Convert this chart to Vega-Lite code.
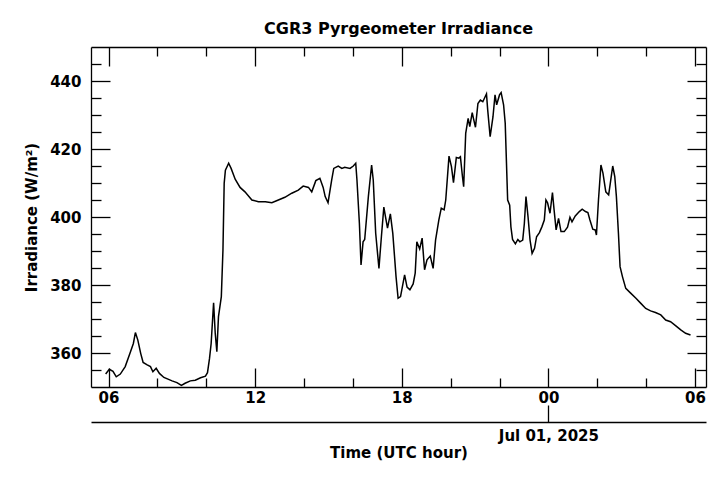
{
  "$schema": "https://vega.github.io/schema/vega-lite/v6.json",
  "width": 615,
  "height": 340,
  "autosize": {"type": "none"},
  "padding": {"left": 91, "top": 47, "right": 22, "bottom": 94},
  "title": {
    "text": "CGR3 Pyrgeometer Irradiance",
    "font": "DejaVu Sans",
    "fontSize": 16,
    "fontWeight": "bold",
    "color": "black",
    "offset": 9
  },
  "data": {
    "values": [
      {"t": "2025-06-30T05:53:00Z", "v": 353.8},
      {"t": "2025-06-30T06:02:00Z", "v": 355.2},
      {"t": "2025-06-30T06:11:00Z", "v": 354.6},
      {"t": "2025-06-30T06:19:00Z", "v": 353.0},
      {"t": "2025-06-30T06:29:00Z", "v": 353.8},
      {"t": "2025-06-30T06:41:00Z", "v": 356.0},
      {"t": "2025-06-30T06:54:00Z", "v": 360.4},
      {"t": "2025-06-30T07:01:00Z", "v": 362.8},
      {"t": "2025-06-30T07:06:00Z", "v": 366.0},
      {"t": "2025-06-30T07:12:00Z", "v": 363.8},
      {"t": "2025-06-30T07:19:00Z", "v": 359.9},
      {"t": "2025-06-30T07:25:00Z", "v": 357.2},
      {"t": "2025-06-30T07:35:00Z", "v": 356.5},
      {"t": "2025-06-30T07:43:00Z", "v": 356.0},
      {"t": "2025-06-30T07:49:00Z", "v": 354.5},
      {"t": "2025-06-30T07:57:00Z", "v": 355.5},
      {"t": "2025-06-30T08:05:00Z", "v": 354.0},
      {"t": "2025-06-30T08:16:00Z", "v": 352.8},
      {"t": "2025-06-30T08:26:00Z", "v": 352.3},
      {"t": "2025-06-30T08:36:00Z", "v": 351.8},
      {"t": "2025-06-30T08:48:00Z", "v": 351.3},
      {"t": "2025-06-30T08:59:00Z", "v": 350.5},
      {"t": "2025-06-30T09:08:00Z", "v": 351.1},
      {"t": "2025-06-30T09:21:00Z", "v": 351.8},
      {"t": "2025-06-30T09:33:00Z", "v": 352.0},
      {"t": "2025-06-30T09:46:00Z", "v": 352.7},
      {"t": "2025-06-30T09:58:00Z", "v": 353.2},
      {"t": "2025-06-30T10:03:00Z", "v": 354.2},
      {"t": "2025-06-30T10:08:00Z", "v": 358.4},
      {"t": "2025-06-30T10:12:00Z", "v": 362.8},
      {"t": "2025-06-30T10:18:00Z", "v": 374.8},
      {"t": "2025-06-30T10:22:00Z", "v": 365.8},
      {"t": "2025-06-30T10:26:00Z", "v": 360.4},
      {"t": "2025-06-30T10:30:00Z", "v": 370.7},
      {"t": "2025-06-30T10:37:00Z", "v": 376.6},
      {"t": "2025-06-30T10:41:00Z", "v": 390.3},
      {"t": "2025-06-30T10:44:00Z", "v": 409.9},
      {"t": "2025-06-30T10:47:00Z", "v": 413.8},
      {"t": "2025-06-30T10:55:00Z", "v": 415.8},
      {"t": "2025-06-30T11:01:00Z", "v": 414.3},
      {"t": "2025-06-30T11:11:00Z", "v": 411.1},
      {"t": "2025-06-30T11:23:00Z", "v": 408.7},
      {"t": "2025-06-30T11:35:00Z", "v": 407.4},
      {"t": "2025-06-30T11:52:00Z", "v": 405.0},
      {"t": "2025-06-30T12:08:00Z", "v": 404.5},
      {"t": "2025-06-30T12:25:00Z", "v": 404.5},
      {"t": "2025-06-30T12:41:00Z", "v": 404.2},
      {"t": "2025-06-30T12:57:00Z", "v": 405.0},
      {"t": "2025-06-30T13:13:00Z", "v": 405.8},
      {"t": "2025-06-30T13:30:00Z", "v": 407.0},
      {"t": "2025-06-30T13:46:00Z", "v": 407.9},
      {"t": "2025-06-30T13:58:00Z", "v": 409.1},
      {"t": "2025-06-30T14:11:00Z", "v": 408.7},
      {"t": "2025-06-30T14:19:00Z", "v": 407.4},
      {"t": "2025-06-30T14:29:00Z", "v": 410.7},
      {"t": "2025-06-30T14:39:00Z", "v": 411.4},
      {"t": "2025-06-30T14:47:00Z", "v": 408.7},
      {"t": "2025-06-30T14:52:00Z", "v": 406.0},
      {"t": "2025-06-30T14:59:00Z", "v": 404.2},
      {"t": "2025-06-30T15:08:00Z", "v": 410.9},
      {"t": "2025-06-30T15:13:00Z", "v": 414.3},
      {"t": "2025-06-30T15:24:00Z", "v": 415.0},
      {"t": "2025-06-30T15:33:00Z", "v": 414.3},
      {"t": "2025-06-30T15:40:00Z", "v": 414.6},
      {"t": "2025-06-30T15:53:00Z", "v": 414.3},
      {"t": "2025-06-30T16:01:00Z", "v": 415.0},
      {"t": "2025-06-30T16:07:00Z", "v": 415.8},
      {"t": "2025-06-30T16:10:00Z", "v": 410.9},
      {"t": "2025-06-30T16:16:00Z", "v": 398.1},
      {"t": "2025-06-30T16:20:00Z", "v": 385.9},
      {"t": "2025-06-30T16:25:00Z", "v": 392.7},
      {"t": "2025-06-30T16:29:00Z", "v": 393.4},
      {"t": "2025-06-30T16:38:00Z", "v": 406.0},
      {"t": "2025-06-30T16:46:00Z", "v": 415.3},
      {"t": "2025-06-30T16:50:00Z", "v": 410.9},
      {"t": "2025-06-30T16:56:00Z", "v": 395.2},
      {"t": "2025-06-30T17:04:00Z", "v": 384.9},
      {"t": "2025-06-30T17:10:00Z", "v": 394.2},
      {"t": "2025-06-30T17:16:00Z", "v": 402.9},
      {"t": "2025-06-30T17:20:00Z", "v": 400.1},
      {"t": "2025-06-30T17:25:00Z", "v": 396.7},
      {"t": "2025-06-30T17:32:00Z", "v": 400.9},
      {"t": "2025-06-30T17:38:00Z", "v": 395.2},
      {"t": "2025-06-30T17:46:00Z", "v": 382.4},
      {"t": "2025-06-30T17:51:00Z", "v": 376.1},
      {"t": "2025-06-30T17:57:00Z", "v": 376.6},
      {"t": "2025-06-30T18:07:00Z", "v": 383.0},
      {"t": "2025-06-30T18:13:00Z", "v": 379.4},
      {"t": "2025-06-30T18:20:00Z", "v": 378.6},
      {"t": "2025-06-30T18:28:00Z", "v": 380.3},
      {"t": "2025-06-30T18:33:00Z", "v": 383.5},
      {"t": "2025-06-30T18:37:00Z", "v": 392.7},
      {"t": "2025-06-30T18:44:00Z", "v": 390.6},
      {"t": "2025-06-30T18:50:00Z", "v": 393.8},
      {"t": "2025-06-30T18:56:00Z", "v": 384.5},
      {"t": "2025-06-30T19:02:00Z", "v": 387.4},
      {"t": "2025-06-30T19:10:00Z", "v": 388.5},
      {"t": "2025-06-30T19:17:00Z", "v": 384.9},
      {"t": "2025-06-30T19:23:00Z", "v": 393.2},
      {"t": "2025-06-30T19:31:00Z", "v": 399.1},
      {"t": "2025-06-30T19:37:00Z", "v": 402.6},
      {"t": "2025-06-30T19:44:00Z", "v": 402.1},
      {"t": "2025-06-30T19:48:00Z", "v": 405.0},
      {"t": "2025-06-30T19:56:00Z", "v": 417.9},
      {"t": "2025-06-30T20:02:00Z", "v": 414.8},
      {"t": "2025-06-30T20:07:00Z", "v": 410.1},
      {"t": "2025-06-30T20:14:00Z", "v": 417.5},
      {"t": "2025-06-30T20:20:00Z", "v": 417.3},
      {"t": "2025-06-30T20:24:00Z", "v": 417.7},
      {"t": "2025-06-30T20:29:00Z", "v": 411.9},
      {"t": "2025-06-30T20:32:00Z", "v": 408.9},
      {"t": "2025-06-30T20:37:00Z", "v": 424.6},
      {"t": "2025-06-30T20:43:00Z", "v": 429.0},
      {"t": "2025-06-30T20:47:00Z", "v": 426.6},
      {"t": "2025-06-30T20:53:00Z", "v": 430.7},
      {"t": "2025-06-30T20:56:00Z", "v": 429.0},
      {"t": "2025-06-30T21:01:00Z", "v": 426.4},
      {"t": "2025-06-30T21:07:00Z", "v": 433.4},
      {"t": "2025-06-30T21:13:00Z", "v": 434.4},
      {"t": "2025-06-30T21:19:00Z", "v": 433.9},
      {"t": "2025-06-30T21:28:00Z", "v": 436.2},
      {"t": "2025-06-30T21:31:00Z", "v": 431.5},
      {"t": "2025-06-30T21:37:00Z", "v": 423.6},
      {"t": "2025-06-30T21:44:00Z", "v": 429.5},
      {"t": "2025-06-30T21:49:00Z", "v": 435.9},
      {"t": "2025-06-30T21:53:00Z", "v": 433.0},
      {"t": "2025-06-30T22:00:00Z", "v": 435.9},
      {"t": "2025-06-30T22:04:00Z", "v": 436.6},
      {"t": "2025-06-30T22:10:00Z", "v": 433.0},
      {"t": "2025-06-30T22:14:00Z", "v": 427.6},
      {"t": "2025-06-30T22:20:00Z", "v": 405.0},
      {"t": "2025-06-30T22:25:00Z", "v": 403.5},
      {"t": "2025-06-30T22:28:00Z", "v": 397.1},
      {"t": "2025-06-30T22:32:00Z", "v": 393.4},
      {"t": "2025-06-30T22:39:00Z", "v": 392.1},
      {"t": "2025-06-30T22:45:00Z", "v": 393.4},
      {"t": "2025-06-30T22:50:00Z", "v": 392.7},
      {"t": "2025-06-30T22:57:00Z", "v": 393.2},
      {"t": "2025-06-30T23:01:00Z", "v": 398.1},
      {"t": "2025-06-30T23:05:00Z", "v": 406.0},
      {"t": "2025-06-30T23:10:00Z", "v": 400.1},
      {"t": "2025-06-30T23:15:00Z", "v": 393.2},
      {"t": "2025-06-30T23:20:00Z", "v": 389.3},
      {"t": "2025-06-30T23:26:00Z", "v": 390.8},
      {"t": "2025-06-30T23:31:00Z", "v": 394.2},
      {"t": "2025-06-30T23:38:00Z", "v": 395.4},
      {"t": "2025-06-30T23:44:00Z", "v": 397.1},
      {"t": "2025-06-30T23:50:00Z", "v": 399.1},
      {"t": "2025-06-30T23:54:00Z", "v": 405.0},
      {"t": "2025-06-30T23:58:00Z", "v": 404.2},
      {"t": "2025-07-01T00:04:00Z", "v": 401.1},
      {"t": "2025-07-01T00:10:00Z", "v": 407.2},
      {"t": "2025-07-01T00:14:00Z", "v": 402.1},
      {"t": "2025-07-01T00:19:00Z", "v": 396.2},
      {"t": "2025-07-01T00:25:00Z", "v": 399.6},
      {"t": "2025-07-01T00:31:00Z", "v": 395.7},
      {"t": "2025-07-01T00:39:00Z", "v": 395.7},
      {"t": "2025-07-01T00:47:00Z", "v": 397.0},
      {"t": "2025-07-01T00:53:00Z", "v": 399.9},
      {"t": "2025-07-01T00:58:00Z", "v": 398.6},
      {"t": "2025-07-01T01:06:00Z", "v": 400.3},
      {"t": "2025-07-01T01:16:00Z", "v": 401.6},
      {"t": "2025-07-01T01:23:00Z", "v": 402.3},
      {"t": "2025-07-01T01:31:00Z", "v": 401.6},
      {"t": "2025-07-01T01:37:00Z", "v": 401.3},
      {"t": "2025-07-01T01:42:00Z", "v": 399.1},
      {"t": "2025-07-01T01:49:00Z", "v": 396.4},
      {"t": "2025-07-01T01:55:00Z", "v": 396.2},
      {"t": "2025-07-01T01:58:00Z", "v": 394.7},
      {"t": "2025-07-01T02:03:00Z", "v": 405.0},
      {"t": "2025-07-01T02:09:00Z", "v": 415.3},
      {"t": "2025-07-01T02:14:00Z", "v": 412.9},
      {"t": "2025-07-01T02:21:00Z", "v": 407.4},
      {"t": "2025-07-01T02:28:00Z", "v": 406.5},
      {"t": "2025-07-01T02:32:00Z", "v": 409.9},
      {"t": "2025-07-01T02:38:00Z", "v": 415.0},
      {"t": "2025-07-01T02:43:00Z", "v": 411.9},
      {"t": "2025-07-01T02:47:00Z", "v": 406.0},
      {"t": "2025-07-01T02:52:00Z", "v": 395.2},
      {"t": "2025-07-01T02:56:00Z", "v": 385.4},
      {"t": "2025-07-01T03:02:00Z", "v": 382.4},
      {"t": "2025-07-01T03:10:00Z", "v": 379.0},
      {"t": "2025-07-01T03:22:00Z", "v": 377.6},
      {"t": "2025-07-01T03:35:00Z", "v": 376.1},
      {"t": "2025-07-01T03:47:00Z", "v": 374.6},
      {"t": "2025-07-01T03:59:00Z", "v": 373.1},
      {"t": "2025-07-01T04:11:00Z", "v": 372.4},
      {"t": "2025-07-01T04:23:00Z", "v": 371.9},
      {"t": "2025-07-01T04:36:00Z", "v": 371.2},
      {"t": "2025-07-01T04:48:00Z", "v": 369.7},
      {"t": "2025-07-01T05:00:00Z", "v": 369.2},
      {"t": "2025-07-01T05:13:00Z", "v": 368.0},
      {"t": "2025-07-01T05:25:00Z", "v": 366.8},
      {"t": "2025-07-01T05:37:00Z", "v": 365.8},
      {"t": "2025-07-01T05:49:00Z", "v": 365.3}
    ]
  },
  "layer": [
    {
      "mark": {"type": "line", "color": "black", "strokeWidth": 1.5},
      "encoding": {
        "x": {
          "field": "t",
          "type": "temporal",
          "scale": {
            "type": "utc",
            "domain": [
              {"year": 2025, "month": 6, "date": 30, "hours": 5, "minutes": 17, "utc": true},
              {"year": 2025, "month": 7, "date": 1, "hours": 6, "minutes": 27, "utc": true}
            ]
          },
          "axis": {
            "orient": "bottom",
            "title": null,
            "format": "%H",
            "values": [
              {"year": 2025, "month": 6, "date": 30, "hours": 6, "utc": true},
              {"year": 2025, "month": 6, "date": 30, "hours": 12, "utc": true},
              {"year": 2025, "month": 6, "date": 30, "hours": 18, "utc": true},
              {"year": 2025, "month": 7, "date": 1, "hours": 0, "utc": true},
              {"year": 2025, "month": 7, "date": 1, "hours": 6, "utc": true}
            ],
            "tickSize": -19,
            "labelPadding": 22
          }
        },
        "y": {
          "field": "v",
          "type": "quantitative",
          "scale": {"domain": [350, 450], "nice": false, "zero": false},
          "axis": {
            "orient": "left",
            "title": "Irradiance (W/m²)",
            "values": [360, 380, 400, 420, 440],
            "tickSize": -19,
            "labelPadding": 29,
            "titlePadding": 10
          }
        }
      }
    },
    {
      "mark": {"type": "line", "opacity": 0},
      "encoding": {
        "x": {
          "field": "t",
          "type": "temporal",
          "axis": {
            "orient": "bottom",
            "title": null,
            "labels": false,
            "domain": false,
            "values": [
              {"year": 2025, "month": 6, "date": 30, "hours": 8, "utc": true},
              {"year": 2025, "month": 6, "date": 30, "hours": 10, "utc": true},
              {"year": 2025, "month": 6, "date": 30, "hours": 14, "utc": true},
              {"year": 2025, "month": 6, "date": 30, "hours": 16, "utc": true},
              {"year": 2025, "month": 6, "date": 30, "hours": 20, "utc": true},
              {"year": 2025, "month": 6, "date": 30, "hours": 22, "utc": true},
              {"year": 2025, "month": 7, "date": 1, "hours": 2, "utc": true},
              {"year": 2025, "month": 7, "date": 1, "hours": 4, "utc": true}
            ],
            "tickSize": -9
          }
        },
        "y": {
          "field": "v",
          "type": "quantitative",
          "axis": {
            "orient": "left",
            "title": null,
            "labels": false,
            "domain": false,
            "values": [355, 365, 370, 375, 385, 390, 395, 405, 410, 415, 425, 430, 435, 445],
            "tickSize": -10
          }
        }
      }
    },
    {
      "mark": {"type": "line", "opacity": 0},
      "encoding": {
        "x": {
          "field": "t",
          "type": "temporal",
          "axis": {
            "orient": "top",
            "title": null,
            "labels": false,
            "values": [
              {"year": 2025, "month": 6, "date": 30, "hours": 6, "utc": true},
              {"year": 2025, "month": 6, "date": 30, "hours": 12, "utc": true},
              {"year": 2025, "month": 6, "date": 30, "hours": 18, "utc": true},
              {"year": 2025, "month": 7, "date": 1, "hours": 0, "utc": true},
              {"year": 2025, "month": 7, "date": 1, "hours": 6, "utc": true}
            ],
            "tickSize": -19
          }
        },
        "y": {
          "field": "v",
          "type": "quantitative",
          "axis": {
            "orient": "right",
            "title": null,
            "labels": false,
            "values": [360, 380, 400, 420, 440],
            "tickSize": -19
          }
        }
      }
    },
    {
      "mark": {"type": "line", "opacity": 0},
      "encoding": {
        "x": {
          "field": "t",
          "type": "temporal",
          "axis": {
            "orient": "top",
            "title": null,
            "labels": false,
            "domain": false,
            "values": [
              {"year": 2025, "month": 6, "date": 30, "hours": 8, "utc": true},
              {"year": 2025, "month": 6, "date": 30, "hours": 10, "utc": true},
              {"year": 2025, "month": 6, "date": 30, "hours": 14, "utc": true},
              {"year": 2025, "month": 6, "date": 30, "hours": 16, "utc": true},
              {"year": 2025, "month": 6, "date": 30, "hours": 20, "utc": true},
              {"year": 2025, "month": 6, "date": 30, "hours": 22, "utc": true},
              {"year": 2025, "month": 7, "date": 1, "hours": 2, "utc": true},
              {"year": 2025, "month": 7, "date": 1, "hours": 4, "utc": true}
            ],
            "tickSize": -9
          }
        },
        "y": {
          "field": "v",
          "type": "quantitative",
          "axis": {
            "orient": "right",
            "title": null,
            "labels": false,
            "domain": false,
            "values": [355, 365, 370, 375, 385, 390, 395, 405, 410, 415, 425, 430, 435, 445],
            "tickSize": -10
          }
        }
      }
    },
    {
      "mark": {"type": "line", "opacity": 0},
      "encoding": {
        "x": {
          "field": "t",
          "type": "temporal",
          "axis": {
            "orient": "bottom",
            "offset": 35,
            "title": "Time (UTC hour)",
            "format": "%b %d, %Y",
            "values": [
              {"year": 2025, "month": 7, "date": 1, "hours": 0, "utc": true}
            ],
            "tickSize": -17,
            "labelPadding": 23,
            "titlePadding": 2
          }
        },
        "y": {"field": "v", "type": "quantitative", "axis": null}
      }
    }
  ],
  "resolve": {"axis": {"x": "independent", "y": "independent"}},
  "config": {
    "view": {"stroke": null},
    "axis": {
      "grid": false,
      "domainColor": "black",
      "domainWidth": 1.3,
      "tickColor": "black",
      "tickWidth": 1.3,
      "labelFont": "DejaVu Sans",
      "labelFontSize": 15,
      "labelFontWeight": "bold",
      "labelColor": "black",
      "labelFlush": false,
      "labelOverlap": false,
      "titleFont": "DejaVu Sans",
      "titleFontSize": 15,
      "titleFontWeight": "bold",
      "titleColor": "black"
    }
  }
}
